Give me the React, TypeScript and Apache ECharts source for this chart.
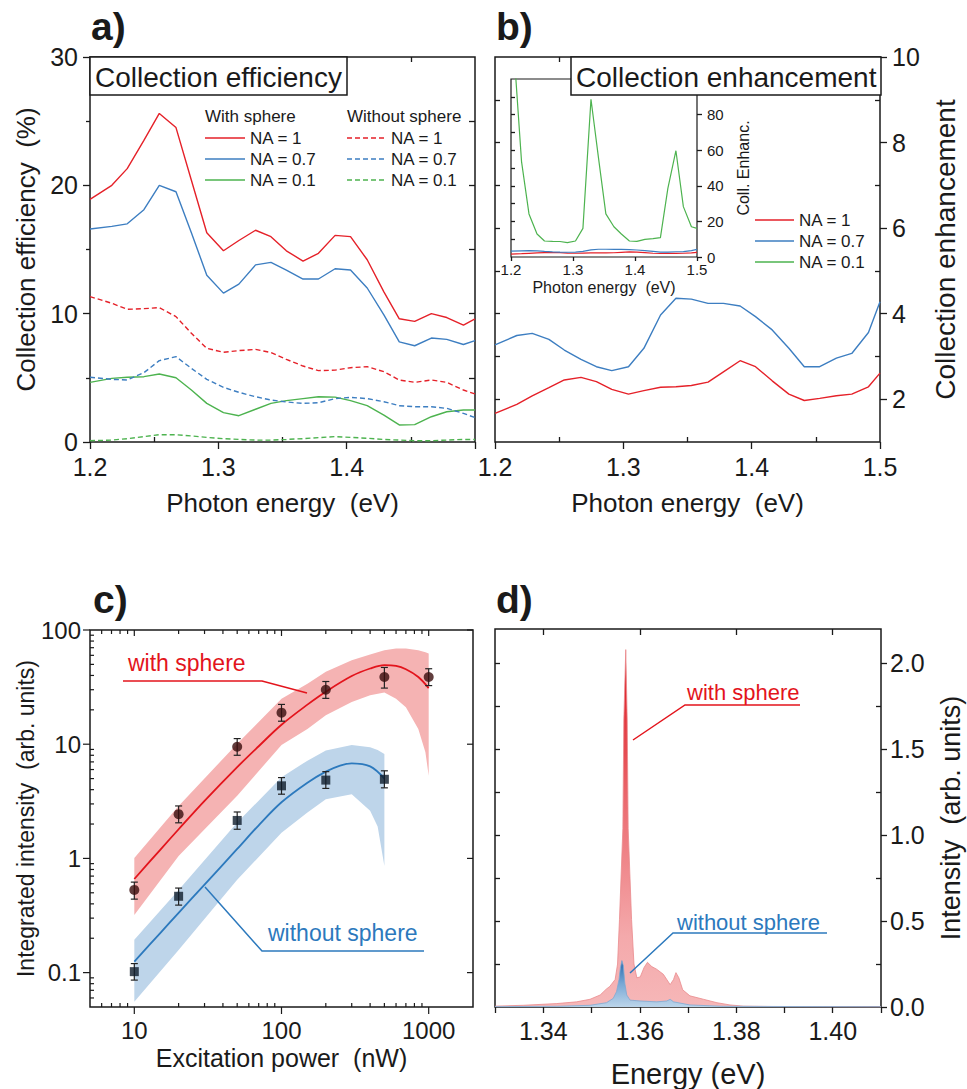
import React, { useEffect, useRef } from "react";
import * as echarts from "echarts";

const FONT = "'Liberation Sans', Arial, Helvetica, sans-serif";
const INK = "#1a1a1a";
const RED = "#e52129";
const BLUE = "#3d7ec1";
const GREEN = "#4db34f";
const C_RED = "#e3141c";
const C_BLUE = "#2c79bd";

// ---------- Panel a / b : photon energy grid ----------
const energyAB = [1.2, 1.217, 1.229, 1.242, 1.254, 1.267, 1.279, 1.291, 1.304, 1.316, 1.329, 1.341, 1.353, 1.366, 1.378, 1.391, 1.403, 1.416, 1.429, 1.441, 1.453, 1.466, 1.478, 1.491, 1.5];
// Collection efficiency (%)
const effWithNA1 = [18.9, 20.0, 21.3, 23.5, 25.6, 24.5, 20.4, 16.3, 14.9, 15.7, 16.5, 16.0, 14.9, 14.1, 14.7, 16.1, 16.0, 14.2, 11.7, 9.6, 9.4, 10.0, 9.7, 9.1, 9.6];
const effWithNA07 = [16.6, 16.8, 17.0, 18.1, 20.0, 19.5, 16.3, 13.0, 11.6, 12.3, 13.8, 14.0, 13.4, 12.7, 12.7, 13.5, 13.4, 12.0, 9.9, 7.8, 7.5, 8.1, 8.0, 7.6, 7.9];
const effWithNA01 = [4.65, 4.96, 5.04, 5.09, 5.3, 5.01, 4.05, 3.01, 2.29, 2.05, 2.55, 3.01, 3.22, 3.38, 3.53, 3.5, 3.22, 2.83, 2.1, 1.33, 1.35, 1.97, 2.36, 2.49, 2.49];
const effWithoutNA1 = [11.33, 10.81, 10.34, 10.39, 10.47, 9.77, 8.47, 7.3, 6.99, 7.12, 7.22, 6.97, 6.44, 5.92, 5.56, 5.6, 5.79, 5.87, 5.48, 4.83, 4.65, 4.83, 4.65, 4.05, 3.74];
const effWithoutNA07 = [5.04, 4.88, 4.83, 5.4, 6.34, 6.65, 5.74, 4.88, 4.26, 3.87, 3.53, 3.27, 3.12, 3.01, 3.06, 3.38, 3.48, 3.38, 3.14, 2.83, 2.75, 2.75, 2.62, 2.23, 1.9];
const effWithoutNA01 = [0.1, 0.15, 0.26, 0.42, 0.57, 0.57, 0.47, 0.36, 0.26, 0.2, 0.15, 0.15, 0.2, 0.26, 0.34, 0.42, 0.36, 0.29, 0.2, 0.15, 0.1, 0.1, 0.15, 0.2, 0.2];
// Collection enhancement
const enhNA1 = [1.67, 1.88, 2.08, 2.27, 2.45, 2.51, 2.41, 2.23, 2.12, 2.2, 2.28, 2.29, 2.32, 2.4, 2.64, 2.9, 2.76, 2.43, 2.12, 1.97, 2.02, 2.08, 2.12, 2.29, 2.61];
const enhNA07 = [3.27, 3.49, 3.54, 3.4, 3.15, 2.93, 2.76, 2.67, 2.76, 3.19, 3.97, 4.36, 4.34, 4.24, 4.24, 4.18, 3.93, 3.62, 3.19, 2.76, 2.76, 2.96, 3.07, 3.56, 4.28];
const enhNA01 = [140, 53.6, 24.2, 12.9, 9.0, 8.8, 8.7, 8.05, 9.0, 16.1, 88.6, 56, 24.2, 17.0, 12.9, 9.0, 8.8, 9.9, 10.3, 10.9, 38.6, 59.7, 28.3, 17.0, 16.1];

// ---------- Panel c : power dependence ----------
const powerNW = [10, 20, 50, 100, 200, 500, 1000];
const intWith = [0.53, 2.44, 9.5, 18.9, 30, 38.8, 38.8];
const intWithLo = [0.44, 2.05, 8.0, 15.9, 25.2, 31, 32.6];
const intWithHi = [0.62, 2.88, 11.2, 22.3, 35.4, 47, 45.8];
const powerWithoutNW = [10, 20, 50, 100, 200, 500];
const intWithout = [0.102, 0.466, 2.15, 4.32, 4.85, 4.93];
const intWithoutLo = [0.086, 0.39, 1.8, 3.65, 4.1, 4.15];
const intWithoutHi = [0.12, 0.55, 2.55, 5.1, 5.75, 5.85];
const fitPowerWith = [10, 15, 20, 30, 50, 70, 100, 150, 200, 300, 400, 500, 600, 700, 850, 1000];
const fitWith = [0.66, 1.19, 1.8, 3.19, 6.3, 9.6, 14.8, 22.2, 28.8, 39.5, 46, 49.3, 48.5, 45.3, 38.8, 31];
const fitPowerWithout = [10, 15, 20, 30, 50, 70, 100, 150, 200, 250, 300, 400, 500];
const fitWithout = [0.125, 0.222, 0.334, 0.59, 1.21, 1.95, 3.1, 4.6, 5.75, 6.5, 6.8, 6.4, 5.0];
const bandPowerWith = [10, 20, 50, 100, 150, 200, 300, 400, 500, 600, 700, 850, 950, 1000];
const bandWithUpper = [1.01, 2.88, 10.1, 25.0, 33.9, 43, 54.4, 61, 66.6, 68.9, 68.9, 66.6, 64, 62.3];
const bandWithLower = [0.32, 1.05, 3.53, 9.86, 13.6, 17.9, 23.4, 26.8, 28.3, 25, 21.1, 13.6, 8.5, 5.3];
const bandPowerWithout = [10, 20, 50, 100, 150, 200, 300, 400, 450, 500];
const bandWithoutUpper = [0.194, 0.53, 2.06, 5.13, 7.18, 8.79, 9.86, 9.4, 8.9, 8.22];
const bandWithoutLower = [0.0556, 0.158, 0.65, 1.68, 2.52, 3.3, 3.65, 2.61, 1.9, 0.86];

// ---------- Panel d : spectra ----------
const energyDRed = [1.33, 1.3359, 1.3428, 1.3469, 1.3497, 1.3518, 1.3531, 1.3538, 1.3549, 1.3554, 1.3558, 1.3565, 1.3567, 1.3571, 1.3574, 1.3576, 1.3583, 1.3588, 1.3594, 1.3601, 1.3609, 1.3616, 1.3625, 1.3635, 1.3649, 1.3663, 1.367, 1.3675, 1.3681, 1.3689, 1.3704, 1.3732, 1.376, 1.3787, 1.3815, 1.39, 1.41];
const intensityDRed = [0.005, 0.01, 0.02, 0.03, 0.045, 0.07, 0.105, 0.12, 0.16, 0.25, 0.51, 1.04, 1.67, 2.08, 1.67, 1.04, 0.51, 0.25, 0.17, 0.175, 0.23, 0.26, 0.235, 0.22, 0.19, 0.13, 0.16, 0.2, 0.17, 0.1, 0.065, 0.045, 0.025, 0.012, 0.005, 0.002, 0.001];
const energyDBlue = [1.33, 1.3428, 1.3497, 1.3531, 1.3545, 1.3552, 1.3557, 1.356, 1.3563, 1.3566, 1.3569, 1.3573, 1.358, 1.3601, 1.3635, 1.3656, 1.3663, 1.367, 1.3704, 1.3773, 1.41];
const intensityDBlue = [0.002, 0.004, 0.01, 0.025, 0.05, 0.09, 0.16, 0.23, 0.27, 0.24, 0.14, 0.07, 0.04, 0.035, 0.03, 0.035, 0.045, 0.03, 0.012, 0.004, 0.001];

// ---------- Tick positions and labels ----------
const tickAB_X_major = [1.2, 1.3, 1.4, 1.5];
const tickA_X_label = [1.2, 1.3, 1.4];
const tickB_X_label = [1.2, 1.3, 1.4, 1.5];
const tickAB_X_minor = [1.25, 1.35, 1.45];
const tickAB_X_top = [1.25, 1.3, 1.35, 1.4, 1.45];
const tickA_Y_major = [0, 10, 20, 30];
const tickA_Y_minor = [5, 15, 25];
const tickA_Y_right = [5, 10, 15, 20, 25];
const tickB_Y_major = [2, 4, 6, 8, 10];
const tickB_Y_minor = [3, 5, 7, 9];
const tickB_Y_left = [2, 3, 4, 5, 6, 7, 8, 9];
const tickInset_X = [1.2, 1.3, 1.4, 1.5];
const tickInset_Y_major = [0, 20, 40, 60, 80];
const tickInset_Y_left = [10, 20, 30, 40, 50, 60, 70, 80, 90];
const tickC_X_major = [10, 100, 1000];
const tickC_X_minor = [6, 7, 8, 9, 20, 30, 40, 50, 60, 70, 80, 90, 200, 300, 400, 500, 600, 700, 800, 900];
const tickC_Y_major = [0.1, 1, 10, 100];
const tickC_Y_minor = [0.06, 0.07, 0.08, 0.09, 0.2, 0.3, 0.4, 0.5, 0.6, 0.7, 0.8, 0.9, 2, 3, 4, 5, 6, 7, 8, 9, 20, 30, 40, 50, 60, 70, 80, 90];
const tickD_X = [1.33, 1.34, 1.35, 1.36, 1.37, 1.38, 1.39, 1.4, 1.41];
const tickD_X_label = [1.34, 1.36, 1.38, 1.4];
const tickD_Y_major = [0, 0.5, 1, 1.5, 2];
const tickD_Y_minor = [0.25, 0.75, 1.25, 1.75];
const tickD_Y_left = [0.25, 0.5, 0.75, 1, 1.25, 1.5, 1.75, 2];

const C_X_MIN = 5, C_X_MAX = 2000, C_Y_MIN = 0.05, C_Y_MAX = 100;

// ---------- helpers ----------
function axisBase(type: string, gridIndex: number, min: number, max: number, position: string, extra: any = {}) {
  return {
    type, gridIndex, min, max, position,
    axisLine: { show: false, onZero: false },
    splitLine: { show: false },
    axisTick: { show: false },
    minorTick: { show: false },
    axisLabel: { show: false },
    ...extra,
  };
}
function tk(values: number[], length: number, inside: boolean) {
  return { show: true, customValues: values, length, inside, lineStyle: { color: INK, width: 1.3 } };
}
function lb(values: number[], fontSize: number, margin: number, formatter: (v: number) => string) {
  return { show: true, customValues: values, fontSize, margin, color: INK, fontFamily: FONT, formatter };
}
function nm(name: string, fontSize: number, gap: number, rotate?: number) {
  return { name, nameLocation: "middle", nameGap: gap, nameRotate: rotate, nameTextStyle: { fontSize, fontFamily: FONT, color: INK } };
}
const f1 = (v: number) => v.toFixed(1);
const f2 = (v: number) => v.toFixed(2);
const f0 = (v: number) => String(Math.round(v));
const logLabel = (v: number) => {
  const l = Math.log10(v);
  const r = Math.round(l);
  return Math.abs(l - r) < 0.02 ? String(parseFloat(Math.pow(10, r).toPrecision(3))) : "";
};
const zip = (xs: number[], ys: number[]) => xs.map((x, i) => [x, ys[i]]);

function lineSeries(name: string, x: number, y: number, xs: number[], ys: number[], color: string, dashed = false, width = 1.4) {
  return {
    name, type: "line", xAxisIndex: x, yAxisIndex: y, data: zip(xs, ys), symbol: "none",
    lineStyle: { color, width, type: dashed ? [5, 3] : "solid" }, z: 3,
  };
}

function bandSeries(xs: number[], up: number[], lo: number[], color: string) {
  return {
    type: "custom", xAxisIndex: 7, yAxisIndex: 8, silent: true, z: 1,
    data: [[xs[0], up[0]]],
    renderItem: (_p: any, api: any) => {
      const pts: number[][] = xs.map((x, i) => api.coord([x, up[i]]));
      for (let i = xs.length - 1; i >= 0; i--) pts.push(api.coord([xs[i], lo[i]]));
      return { type: "polygon", shape: { points: pts }, style: { fill: color } };
    },
  };
}

function errorSeries(xs: number[], lo: number[], hi: number[]) {
  return {
    type: "custom", xAxisIndex: 7, yAxisIndex: 8, silent: true, z: 4,
    data: xs.map((x, i) => [x, lo[i], hi[i]]),
    encode: { x: 0, y: [1, 2] },
    renderItem: (_p: any, api: any) => {
      const x = api.value(0);
      const a = api.coord([x, api.value(1)]);
      const b = api.coord([x, api.value(2)]);
      const w = 3.5;
      const st = { stroke: "#222", lineWidth: 1.2 };
      return {
        type: "group",
        children: [
          { type: "line", shape: { x1: a[0], y1: a[1], x2: b[0], y2: b[1] }, style: st },
          { type: "line", shape: { x1: a[0] - w, y1: a[1], x2: a[0] + w, y2: a[1] }, style: st },
          { type: "line", shape: { x1: b[0] - w, y1: b[1], x2: b[0] + w, y2: b[1] }, style: st },
        ],
      };
    },
  };
}

// ticks of the log panel, drawn through the log axes
function logXTicks(values: number[], major: boolean) {
  return {
    type: "custom", xAxisIndex: 7, yAxisIndex: 8, silent: true, z: 6, clip: false,
    data: values.map((v) => [v, 1]),
    renderItem: (_p: any, api: any) => {
      const v = api.value(0);
      const b = api.coord([v, C_Y_MIN]);
      const t = api.coord([v, C_Y_MAX]);
      const st = { stroke: INK, lineWidth: 1.2 };
      return {
        type: "group",
        children: [
          { type: "line", shape: { x1: b[0], y1: b[1], x2: b[0], y2: major ? b[1] + 7 : b[1] - 4 }, style: st },
          { type: "line", shape: { x1: t[0], y1: t[1], x2: t[0], y2: t[1] + (major ? 6 : 4) }, style: st },
        ],
      };
    },
  };
}
function logYTicks(values: number[], major: boolean) {
  return {
    type: "custom", xAxisIndex: 7, yAxisIndex: 8, silent: true, z: 6, clip: false,
    data: values.map((v) => [10, v]),
    renderItem: (_p: any, api: any) => {
      const v = api.value(1);
      const l = api.coord([C_X_MIN, v]);
      const r = api.coord([C_X_MAX, v]);
      const st = { stroke: INK, lineWidth: 1.2 };
      const ch: any[] = [
        { type: "line", shape: { x1: l[0], y1: l[1], x2: major ? l[0] - 7 : l[0] + 4, y2: l[1] }, style: st },
      ];
      if (major) ch.push({ type: "line", shape: { x1: r[0], y1: r[1], x2: r[0] - 6, y2: r[1] }, style: st });
      return { type: "group", children: ch };
    },
  };
}

const txt = (text: string, x: number, y: number, size: number, fill = INK, extra: any = {}) => ({
  type: "text", x, y, z: 100,
  style: { text, fontSize: size, fontFamily: FONT, fill, verticalAlign: "middle", align: "left", ...extra },
});
const seg = (x1: number, y1: number, x2: number, y2: number, stroke: string, dash?: number[]) => ({
  type: "line", z: 100, shape: { x1, y1, x2, y2 }, style: { stroke, lineWidth: 1.5, lineDash: dash },
});
const poly = (points: number[][], stroke: string) => ({
  type: "polyline", z: 100, shape: { points }, style: { stroke, lineWidth: 1.5, fill: null },
});

function buildOption() {
  const gridStyle = { show: true, borderColor: INK, borderWidth: 1.5, backgroundColor: "transparent" };
  const grid = [
    { left: 90, top: 57, width: 385, height: 385, ...gridStyle },
    { left: 495, top: 57, width: 385, height: 385, ...gridStyle },
    { left: 511, top: 79, width: 186, height: 178, ...gridStyle, borderWidth: 1.2 },
    { left: 90, top: 630, width: 383, height: 377, ...gridStyle },
    { left: 495, top: 629, width: 386, height: 378, ...gridStyle },
  ];

  const xAxis = [
    // 0 a bottom
    axisBase("value", 0, 1.2, 1.5, "bottom", {
      axisTick: tk(tickAB_X_major, 7, false), axisLabel: lb(tickA_X_label, 25, 12, f1),
      ...nm("Photon energy  (eV)", 26, 48),
    }),
    // 1 a bottom minor
    axisBase("value", 0, 1.2, 1.5, "bottom", { axisTick: tk(tickAB_X_minor, 5, true) }),
    // 2 a top
    axisBase("value", 0, 1.2, 1.5, "top", { axisTick: tk(tickAB_X_top, 5, true) }),
    // 3 b bottom
    axisBase("value", 1, 1.2, 1.5, "bottom", {
      axisTick: tk(tickAB_X_major, 7, false), axisLabel: lb(tickB_X_label, 25, 12, f1),
      ...nm("Photon energy  (eV)", 26, 48),
    }),
    // 4 b bottom minor
    axisBase("value", 1, 1.2, 1.5, "bottom", { axisTick: tk(tickAB_X_minor, 5, true) }),
    // 5 b top
    axisBase("value", 1, 1.2, 1.5, "top", { axisTick: tk(tickAB_X_top, 5, true) }),
    // 6 inset bottom
    axisBase("value", 2, 1.2, 1.5, "bottom", {
      axisTick: tk(tickInset_X, 4, false), axisLabel: lb(tickInset_X, 15, 5, f1),
      ...nm("Photon energy  (eV)", 16, 22),
    }),
    // 7 c bottom log
    {
      type: "log", logBase: 10, gridIndex: 3, min: C_X_MIN, max: C_X_MAX, position: "bottom",
      axisLine: { show: false, onZero: false }, splitLine: { show: false }, axisTick: { show: false }, minorTick: { show: false },
      axisLabel: { show: true, fontSize: 24, margin: 11, color: INK, fontFamily: FONT, formatter: logLabel },
      ...nm("Excitation power  (nW)", 25, 38),
    },
    // 8 d bottom
    axisBase("value", 4, 1.33, 1.41, "bottom", {
      axisTick: tk(tickD_X, 6, false), axisLabel: lb(tickD_X_label, 25, 11, f2),
      ...nm("Energy (eV)", 29, 52),
    }),
    // 9 d top
    axisBase("value", 4, 1.33, 1.41, "top", { axisTick: tk(tickD_X_label, 6, true) }),
  ];

  const yAxis = [
    // 0 a left
    axisBase("value", 0, 0, 30, "left", {
      axisTick: tk(tickA_Y_major, 7, false), axisLabel: lb(tickA_Y_major, 25, 12, f0),
      ...nm("Collection efficiency  (%)", 26, 51, 90),
    }),
    // 1 a left minor
    axisBase("value", 0, 0, 30, "left", { axisTick: tk(tickA_Y_minor, 4, false) }),
    // 2 a right mirror
    axisBase("value", 0, 0, 30, "right", { axisTick: tk(tickA_Y_right, 6, true) }),
    // 3 b left mirror
    axisBase("value", 1, 1, 10, "left", { axisTick: tk(tickB_Y_left, 5, true) }),
    // 4 b right
    axisBase("value", 1, 1, 10, "right", {
      axisTick: tk(tickB_Y_major, 7, false), axisLabel: lb(tickB_Y_major, 25, 12, f0),
      ...nm("Collection enhancement", 28, 51, 90),
    }),
    // 5 b right minor
    axisBase("value", 1, 1, 10, "right", { axisTick: tk(tickB_Y_minor, 5, true) }),
    // 6 inset left
    axisBase("value", 2, 0, 100, "left", { axisTick: tk(tickInset_Y_left, 4, true) }),
    // 7 inset right
    axisBase("value", 2, 0, 100, "right", {
      axisTick: tk(tickInset_Y_major, 5, false), axisLabel: lb(tickInset_Y_major, 15, 10, f0),
      ...nm("Coll. Enhanc.", 16, 38, 90),
    }),
    // 8 c left log
    {
      type: "log", logBase: 10, gridIndex: 3, min: C_Y_MIN, max: C_Y_MAX, position: "left",
      axisLine: { show: false, onZero: false }, splitLine: { show: false }, axisTick: { show: false }, minorTick: { show: false },
      axisLabel: { show: true, fontSize: 24, margin: 9, color: INK, fontFamily: FONT, formatter: logLabel },
      ...nm("Integrated intensity  (arb. units)", 23, 46, 90),
    },
    // 9 d left mirror
    axisBase("value", 4, 0, 2.2, "left", { axisTick: tk(tickD_Y_left, 5, true) }),
    // 10 d right
    axisBase("value", 4, 0, 2.2, "right", {
      axisTick: tk(tickD_Y_major, 6, false), axisLabel: lb(tickD_Y_major, 25, 9, f1),
      ...nm("Intensity  (arb. units)", 27, 56, 90),
    }),
    // 11 d right minor
    axisBase("value", 4, 0, 2.2, "right", { axisTick: tk(tickD_Y_minor, 5, true) }),
  ];

  const redGrad = new echarts.graphic.LinearGradient(0, 0, 0, 1, [
    { offset: 0, color: "#dc1018" },
    { offset: 0.45, color: "#ec6f74" },
    { offset: 0.8, color: "#f4a9ab" },
    { offset: 1, color: "#f6b7b8" },
  ]);
  const blueGrad = new echarts.graphic.LinearGradient(0, 0, 0, 1, [
    { offset: 0, color: "#2767ab" },
    { offset: 0.5, color: "#79a8d5" },
    { offset: 1, color: "#bcd5ea" },
  ]);

  const series: any[] = [
    // panel a
    lineSeries("With sphere NA = 1", 0, 0, energyAB, effWithNA1, RED),
    lineSeries("With sphere NA = 0.7", 0, 0, energyAB, effWithNA07, BLUE),
    lineSeries("With sphere NA = 0.1", 0, 0, energyAB, effWithNA01, GREEN),
    lineSeries("Without sphere NA = 1", 0, 0, energyAB, effWithoutNA1, RED, true),
    lineSeries("Without sphere NA = 0.7", 0, 0, energyAB, effWithoutNA07, BLUE, true),
    lineSeries("Without sphere NA = 0.1", 0, 0, energyAB, effWithoutNA01, GREEN, true),
    // panel b
    lineSeries("Enhancement NA = 1", 3, 4, energyAB, enhNA1, RED),
    lineSeries("Enhancement NA = 0.7", 3, 4, energyAB, enhNA07, BLUE),
    // inset
    lineSeries("Inset NA = 1", 6, 7, energyAB, enhNA1, RED, false, 1.2),
    lineSeries("Inset NA = 0.7", 6, 7, energyAB, enhNA07, BLUE, false, 1.2),
    lineSeries("Inset NA = 0.1", 6, 7, energyAB, enhNA01, GREEN, false, 1.2),
    // panel c
    bandSeries(bandPowerWith, bandWithUpper, bandWithLower, "#f5b3b3"),
    bandSeries(bandPowerWithout, bandWithoutUpper, bandWithoutLower, "#bed5ea"),
    { ...lineSeries("fit with sphere", 7, 8, fitPowerWith, fitWith, C_RED, false, 1.8), smooth: 0.35 },
    { ...lineSeries("fit without sphere", 7, 8, fitPowerWithout, fitWithout, C_BLUE, false, 1.8), smooth: 0.35 },
    errorSeries(powerNW, intWithLo, intWithHi),
    errorSeries(powerWithoutNW, intWithoutLo, intWithoutHi),
    {
      name: "with sphere", type: "scatter", xAxisIndex: 7, yAxisIndex: 8, z: 5,
      data: zip(powerNW, intWith), symbol: "circle", symbolSize: 10, itemStyle: { color: "#3a0c0c" },
    },
    {
      name: "without sphere", type: "scatter", xAxisIndex: 7, yAxisIndex: 8, z: 5,
      data: zip(powerWithoutNW, intWithout), symbol: "rect", symbolSize: 9, itemStyle: { color: "#0f1d2c" },
    },
    logXTicks(tickC_X_major, true),
    logXTicks(tickC_X_minor, false),
    logYTicks(tickC_Y_major, true),
    logYTicks(tickC_Y_minor, false),
    // panel d
    {
      name: "spectrum with sphere", type: "line", xAxisIndex: 8, yAxisIndex: 10, symbol: "none", z: 2,
      data: zip(energyDRed, intensityDRed),
      lineStyle: { color: "#ea8a8d", width: 0.8 }, areaStyle: { color: redGrad, opacity: 1 },
    },
    {
      name: "spectrum without sphere", type: "line", xAxisIndex: 8, yAxisIndex: 10, symbol: "none", z: 3,
      data: zip(energyDBlue, intensityDBlue),
      lineStyle: { color: "#7ea9d3", width: 0.8 }, areaStyle: { color: blueGrad, opacity: 1 },
    },
  ];

  const elements: any[] = [
    // panel letters
    txt("a)", 91, 26, 39, INK, { fontWeight: "bold" }),
    txt("b)", 496, 26, 39, INK, { fontWeight: "bold" }),
    txt("c)", 93, 599, 39, INK, { fontWeight: "bold" }),
    txt("d)", 496, 599, 39, INK, { fontWeight: "bold" }),
    // panel a title box
    { type: "rect", z: 99, shape: { x: 90, y: 57, width: 257, height: 38 }, style: { fill: "#fff", stroke: INK, lineWidth: 1.5 } },
    txt("Collection efficiency", 95, 77, 28),
    // panel a legend
    txt("With sphere", 205, 116, 17),
    txt("Without sphere", 347, 116, 17),
    seg(205, 138, 245, 138, RED), txt("NA = 1", 250, 138, 17),
    seg(205, 159, 245, 159, BLUE), txt("NA = 0.7", 250, 159, 17),
    seg(205, 180, 245, 180, GREEN), txt("NA = 0.1", 250, 180, 17),
    seg(347, 138, 385, 138, RED, [5, 3]), txt("NA = 1", 391, 138, 17),
    seg(347, 159, 385, 159, BLUE, [5, 3]), txt("NA = 0.7", 391, 159, 17),
    seg(347, 180, 385, 180, GREEN, [5, 3]), txt("NA = 0.1", 391, 180, 17),
    // panel b title box
    { type: "rect", z: 99, shape: { x: 571, y: 57, width: 310, height: 38 }, style: { fill: "#fff", stroke: INK, lineWidth: 1.5 } },
    txt("Collection enhancement", 576, 77, 28),
    // panel b legend
    seg(755, 220, 794, 220, RED), txt("NA = 1", 799, 220, 17),
    seg(755, 241, 794, 241, BLUE), txt("NA = 0.7", 799, 241, 17),
    seg(755, 262, 794, 262, GREEN), txt("NA = 0.1", 799, 262, 17),
    // panel c annotations
    txt("with sphere", 128, 663, 23, C_RED),
    poly([[123, 681], [262, 681], [307, 693]], C_RED),
    txt("without sphere", 268, 933, 23, C_BLUE),
    poly([[205, 887], [262, 951], [424, 951]], C_BLUE),
    // panel d annotations
    txt("with sphere", 687, 692, 22, C_RED),
    poly([[633, 740], [685, 705], [800, 705]], C_RED),
    txt("without sphere", 677, 922, 22, C_BLUE),
    poly([[630, 973], [673, 933], [827, 933]], C_BLUE),
  ];

  return {
    animation: false,
    backgroundColor: "#fff",
    textStyle: { fontFamily: FONT },
    grid, xAxis, yAxis, series,
    graphic: { elements },
  };
}

export default function App() {
  const ref = useRef<HTMLDivElement>(null);
  useEffect(() => {
    const chart = echarts.init(ref.current!, null, { renderer: "svg" });
    chart.setOption(buildOption() as any);
    return () => chart.dispose();
  }, []);
  return (
    <div
      ref={ref}
      style={{ position: "fixed", left: 0, top: 0, width: 967, height: 1089, background: "#fff" }}
    />
  );
}
